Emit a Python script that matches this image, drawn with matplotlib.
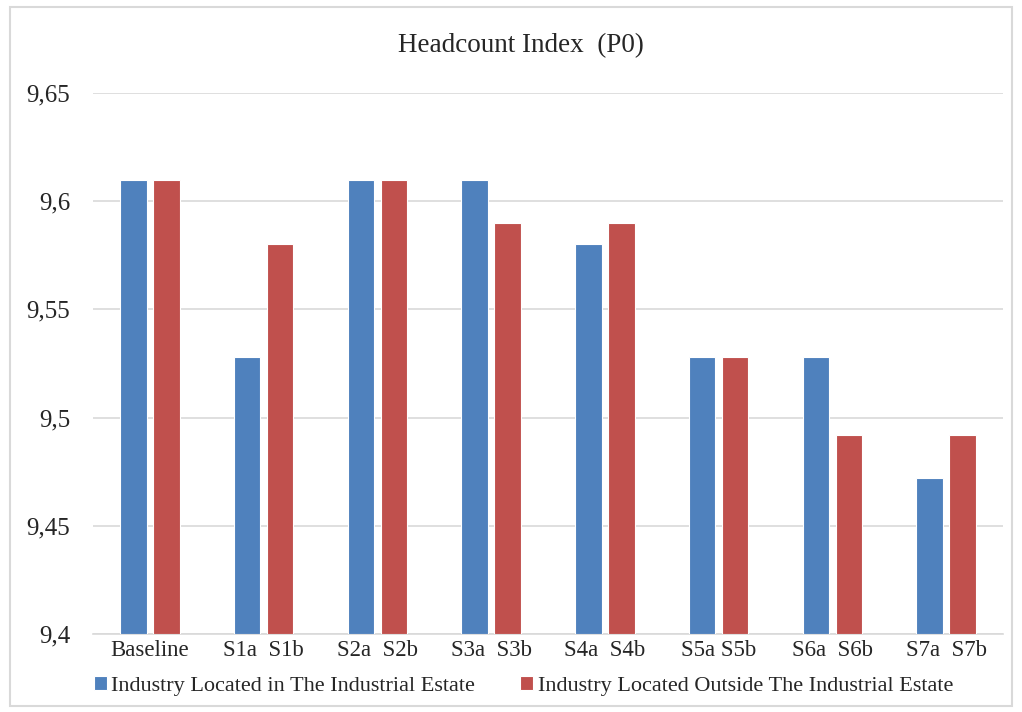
import matplotlib
matplotlib.use("Agg")
import matplotlib.pyplot as plt
import numpy as np
from matplotlib.patches import Rectangle
from matplotlib.ticker import FuncFormatter

categories = ["Baseline", "S1a  S1b", "S2a  S2b", "S3a  S3b", "S4a  S4b", "S5a S5b", "S6a  S6b", "S7a  S7b"]
inside = [9.61, 9.528, 9.61, 9.61, 9.58, 9.528, 9.528, 9.472]
outside = [9.61, 9.58, 9.61, 9.59, 9.59, 9.528, 9.492, 9.492]
series_names = ["Industry Located in The Industrial Estate", "Industry Located Outside The Industrial Estate"]
yticks = [9.4, 9.45, 9.5, 9.55, 9.6, 9.65]

plt.rcParams['font.family'] = ['Liberation Serif', 'DejaVu Serif']

fig = plt.figure(figsize=(10.22, 7.12), dpi=100)
ax = fig.add_axes([93/1022, 1-634/712, (1003-93)/1022, (634-93)/712])

x = np.arange(len(categories))
w = 0.235
off = 0.145
ax.bar(x - off, [v - 9.4 for v in inside], w, bottom=9.4, color="#4F81BD", edgecolor="white", linewidth=0.8, label=series_names[0], zorder=3)
ax.bar(x + off, [v - 9.4 for v in outside], w, bottom=9.4, color="#C0504D", edgecolor="white", linewidth=0.8, label=series_names[1], zorder=3)

ax.set_ylim(9.4, 9.65)
ax.set_xlim(-0.5, len(categories) - 0.5)
ax.set_yticks(yticks)
ax.yaxis.set_major_formatter(FuncFormatter(lambda v, p: ("%g" % round(v, 2)).replace(".", ",")))
ax.set_xticks(x)
ax.set_xticklabels(categories)
ax.tick_params(axis='both', length=0, colors="#262626")
ax.tick_params(axis='y', pad=16.5, labelsize=18)
ax.tick_params(axis='x', pad=4, labelsize=16.4)
ax.grid(axis='y', color="#D9D9D9", linewidth=1.2, zorder=0)
for s in ["top", "right", "left"]:
    ax.spines[s].set_visible(False)
ax.spines["bottom"].set_color("#D9D9D9")
ax.spines["bottom"].set_linewidth(1.2)

fig.text(521/1022, 1 - 46/712, "Headcount Index  (P0)", ha="center", va="center", fontsize=19.5, color="#262626")

leg = fig.legend(loc="center", bbox_to_anchor=(0.512, 1 - 686/712), ncol=2, frameon=False,
                 fontsize=16, handlelength=0.6, handleheight=0.6, handletextpad=0.2, columnspacing=2.0)
for t in leg.get_texts():
    t.set_color("#262626")

fig.patches.append(Rectangle((10/1022, 1-706/712), (1012-10)/1022, (706-7)/712, transform=fig.transFigure,
                             fill=False, edgecolor="#D9D9D9", linewidth=1.5))

fig.savefig("out.png", dpi=100)
